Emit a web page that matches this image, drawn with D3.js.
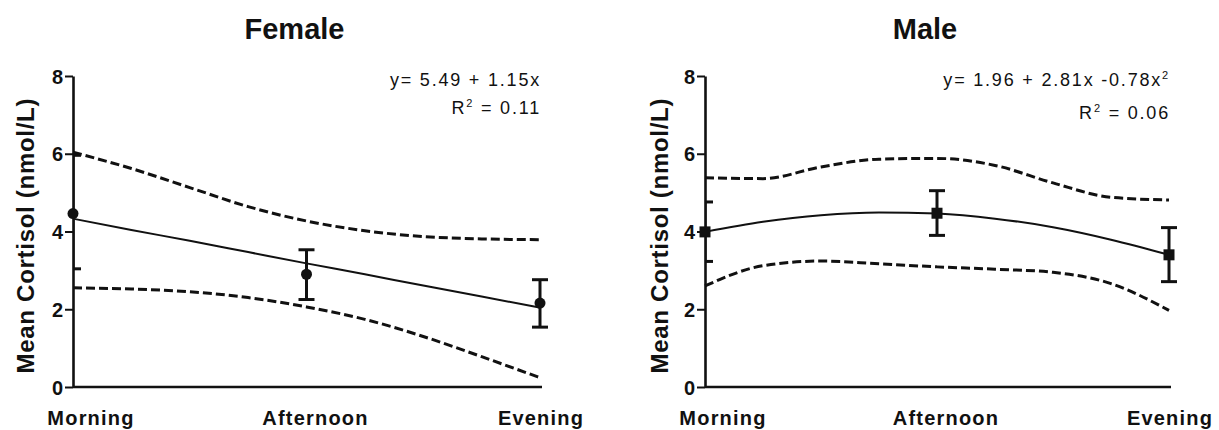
<!DOCTYPE html>
<html>
<head>
<meta charset="utf-8">
<script src="https://cdn.jsdelivr.net/npm/d3@7"></script>
<style>
	body { margin: 0; background: #fff; }
	text { font-family: 'Liberation Sans', Arial, sans-serif; fill: #111; }
	.bold { font-weight: bold; }
</style>
</head>
<body>
<svg id="chart" width="1219" height="430"></svg>
<script>
// categories and tick labels
let periods = ['Morning', 'Afternoon', 'Evening']
let yTicks = [0, 2, 4, 6, 8]

// grid along the x axis (1 = Morning, 3 = Evening) used by fit and band curves
let curveX = [1, 1.25, 1.5, 1.75, 2, 2.25, 2.5, 2.75, 3]

// Female
let femaleMean = [4.46, 2.90, 2.16]
let femaleLow = [3.04, 2.25, 1.54]
let femaleHigh = [5.96, 3.53, 2.76]
let femaleFit = [4.33, 4.04, 3.76, 3.47, 3.18, 2.90, 2.61, 2.33, 2.04]
let femaleUpper = [6.04, 5.62, 5.13, 4.64, 4.27, 4.02, 3.87, 3.81, 3.79]
let femaleLower = [2.55, 2.52, 2.45, 2.30, 2.06, 1.74, 1.30, 0.78, 0.24]

// Male
let maleMean = [3.99, 4.47, 3.40]
let maleLow = [3.23, 3.90, 2.71]
let maleHigh = [4.76, 5.05, 4.10]
let maleFit = [3.99, 4.25, 4.42, 4.49, 4.46, 4.33, 4.11, 3.79, 3.40]
let maleUpper = [5.38, 5.36, 5.66, 5.86, 5.88, 5.70, 5.25, 4.88, 4.81]
let maleLower = [2.60, 3.12, 3.24, 3.17, 3.09, 3.03, 2.95, 2.66, 1.97]

let panels = [
	{
		title : 'Female', eq : ['y= 5.49 + 1.15x', ''], r2 : '0.11', marker : 'circle',
		mean : femaleMean, low : femaleLow, high : femaleHigh,
		fit : femaleFit, upper : femaleUpper, lower : femaleLower,
		x0 : 73, x1 : 540, yLabelX : 34, eqY : [86, 114]
	},{
		title : 'Male', eq : ['y= 1.96 + 2.81x -0.78x', '2'], r2 : '0.06', marker : 'square',
		mean : maleMean, low : maleLow, high : maleHigh,
		fit : maleFit, upper : maleUpper, lower : maleLower,
		x0 : 705, x1 : 1169, yLabelX : 668, eqY : [86, 119]
	}
]

let svg = d3.select('#chart')

let y = d3.scaleLinear()
	.domain([0, 8])
	.range([387, 76])

// small nudges so the category labels sit like the original's
let labelShift = [18, 9, 1]

let drawPanel = (p, i) => {

	let x = d3.scaleLinear()
		.domain([1, 3])
		.range([p.x0, p.x1])

	let g = svg.append('g')
		.attr('class', 'panel-' + i)

	let clipId = 'clip-' + i
	g.append('clipPath')
		.attr('id', clipId)
		.append('rect')
		.attr('x', p.x0 + 1)
		.attr('y', 0)
		.attr('width', p.x1 - p.x0 + 20)
		.attr('height', 430)

	// title
	g.append('text')
		.attr('class', 'bold')
		.attr('x', (p.x0 + p.x1) / 2 - 12)
		.attr('y', 39)
		.attr('text-anchor', 'middle')
		.style('font-size', '29px')
		.text(p.title)

	// y axis
	let yAxis = d3.axisLeft(y)
		.tickValues(yTicks)
		.tickSize(8)
		.tickPadding(2)
		.tickSizeOuter(0)

	let ya = g.append('g')
		.attr('transform', `translate(${p.x0},0)`)
		.call(yAxis)
	ya.select('.domain').attr('stroke', '#111').attr('stroke-width', 2.6)
	ya.selectAll('.tick line').attr('stroke', '#111').attr('stroke-width', 2)
	ya.selectAll('.tick text')
		.attr('class', 'bold')
		.style('font-size', '20px')
		.attr('dy', '0.36em')

	// x axis line
	g.append('line')
		.attr('x1', p.x0)
		.attr('x2', p.x1 + 2)
		.attr('y1', y(0))
		.attr('y2', y(0))
		.attr('stroke', '#111')
		.attr('stroke-width', 2.6)

	g.selectAll('.cat-label')
		.data(periods)
		.enter()
		.append('text')
		.attr('class', 'cat-label bold')
		.attr('x', (d, j) => x(j + 1) + labelShift[j])
		.attr('y', 425)
		.attr('text-anchor', 'middle')
		.style('font-size', '20px')
		.style('letter-spacing', '1.2px')
		.text(d => d)

	// y label
	g.append('text')
		.attr('class', 'bold')
		.attr('transform', `translate(${p.yLabelX},236) rotate(-90)`)
		.attr('text-anchor', 'middle')
		.attr('textLength', 275)
		.attr('lengthAdjust', 'spacing')
		.style('font-size', '24px')
		.text('Mean Cortisol (nmol/L)')

	let line = d3.line()
		.x((d, j) => x(curveX[j]))
		.y(d => y(d))
		.curve(d3.curveMonotoneX)

	// confidence bands
	;[p.upper, p.lower].forEach(band => {
		g.append('path')
			.attr('d', line(band))
			.attr('fill', 'none')
			.attr('stroke', '#111')
			.attr('stroke-width', 3)
			.attr('stroke-dasharray', '9,4')
	})

	// fit
	g.append('path')
		.attr('d', line(p.fit))
		.attr('fill', 'none')
		.attr('stroke', '#111')
		.attr('stroke-width', 2)

	// error bars
	let bars = g.append('g')
		.attr('clip-path', `url(#${clipId})`)

	p.mean.forEach((m, j) => {
		let cx = x(j + 1)
		bars.append('line')
			.attr('x1', cx).attr('x2', cx)
			.attr('y1', y(p.low[j])).attr('y2', y(p.high[j]))
			.attr('stroke', '#111').attr('stroke-width', 3)
		;[p.low[j], p.high[j]].forEach(v => {
			bars.append('line')
				.attr('x1', cx - 8).attr('x2', cx + 8)
				.attr('y1', y(v)).attr('y2', y(v))
				.attr('stroke', '#111').attr('stroke-width', 3)
		})
	})

	// markers
	if(p.marker === 'circle') {
		g.selectAll('.pt')
			.data(p.mean)
			.enter()
			.append('circle')
			.attr('class', 'pt')
			.attr('cx', (d, j) => x(j + 1))
			.attr('cy', d => y(d))
			.attr('r', 5.5)
			.attr('fill', '#111')
	} else {
		g.selectAll('.pt')
			.data(p.mean)
			.enter()
			.append('rect')
			.attr('class', 'pt')
			.attr('x', (d, j) => x(j + 1) - 5.5)
			.attr('y', d => y(d) - 5.5)
			.attr('width', 11)
			.attr('height', 11)
			.attr('fill', '#111')
	}

	// equation
	let eq = g.append('text')
		.attr('x', p.x1 + 1)
		.attr('y', p.eqY[0])
		.attr('text-anchor', 'end')
		.style('font-size', '18px')
		.style('letter-spacing', '1.8px')
	eq.append('tspan').text(p.eq[0])
	if(p.eq[1]) {
		eq.append('tspan').attr('dy', -7).style('font-size', '11px').text(p.eq[1])
	}

	let r2 = g.append('text')
		.attr('x', p.x1 + 1)
		.attr('y', p.eqY[1])
		.attr('text-anchor', 'end')
		.style('font-size', '18px')
		.style('letter-spacing', '1.8px')
	r2.append('tspan').text('R')
	r2.append('tspan').attr('dy', -7).style('font-size', '11px').text('2')
	r2.append('tspan').attr('dy', 7).text(' = ' + p.r2)
}

panels.forEach(drawPanel)
</script>
</body>
</html>
